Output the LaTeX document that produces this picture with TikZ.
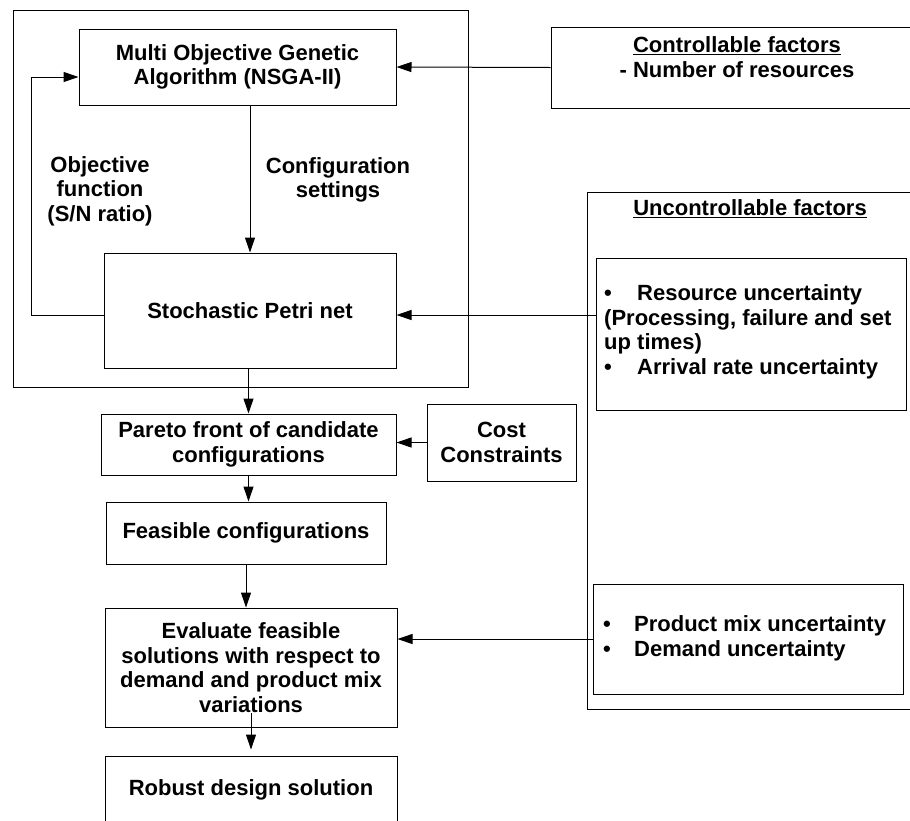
\documentclass[tikz,border=0pt]{standalone}
\usepackage{fontspec}
\setmainfont{Liberation Sans}
\usetikzlibrary{arrows.meta}
\newcommand\boxfont{\bfseries\fontsize{22}{24.5}\selectfont}
\newcommand\bul[1]{\makebox[#1][l]{\textbullet}}
\begin{document}
\begin{tikzpicture}[x=1pt,y=-1pt,
  box/.style={draw, line width=1pt, inner sep=0pt, align=center, font=\boxfont},
  lbl/.style={align=center, inner sep=0pt, font=\boxfont},
  lbll/.style={align=left, inner sep=0pt, font=\boxfont, anchor=west},
  arr/.style={line width=1pt, -{Triangle[length=15pt,width=10pt]}},
  ln/.style={line width=1pt}]
\useasboundingbox (0,0) rectangle (910,820);
\clip (0,0) rectangle (910,820);

% optimisation loop
\node[box, minimum width=455pt, minimum height=377pt] (loop) at (240.5,198.5) {};
\node[box, minimum width=317pt, minimum height=76pt] (moga) at (237.5,67)
  {Multi Objective Genetic\\Algorithm (NSGA-II)};
\node[box, minimum width=292pt, minimum height=115pt] (spn) at (250,310.5)
  {Stochastic Petri net};
\node[lbl] (objlbl) at (100,191) {Objective\\function\\(S/N ratio)};
\node[lbl] (cfglbl) at (338,180) {Configuration\\settings};

% factors
\node[box, minimum width=369pt, minimum height=81pt] (ctrl) at (735.5,67.5) {};
\node[lbl] (ctrltxt) at (737,57) {\underline{Controllable factors}\\- Number of resources};
\node[box, minimum width=333pt, minimum height=517pt] (unc) at (753.5,450.5) {};
\node[lbl] (unctxt) at (750,209) {\underline{Uncontrollable factors}};
\node[box, minimum width=310pt, minimum height=152pt] (unc1) at (751,334) {};
\node[lbll] (unc1txt) at (604,332)
  {\bul{33pt}Resource uncertainty\\(Processing, failure and set\\up times)\\\bul{33pt}Arrival rate uncertainty};
\node[box, minimum width=310pt, minimum height=110pt] (unc2) at (748,639) {};
\node[lbll] (unc2txt) at (603,638.5)
  {\bul{31pt}Product mix uncertainty\\\bul{31pt}Demand uncertainty};

% post-processing chain
\node[box, minimum width=295pt, minimum height=61pt] (pareto) at (248.5,444.5)
  {Pareto front of candidate\\configurations};
\node[box, minimum width=149pt, minimum height=77pt] (cost) at (501.5,442.5)
  {Cost\\Constraints};
\node[box, minimum width=280pt, minimum height=62pt] (feas) at (246,533)
  {Feasible configurations};
\node[box, minimum width=292pt, minimum height=119pt] (eval) at (251,667.5)
  {Evaluate feasible\\solutions with respect to\\demand and product mix\\variations};
\node[box, minimum width=292pt, minimum height=80pt, text depth=0pt] (robust) at (251,796)
  {};
\node[lbl] (robusttxt) at (251,790) {Robust design solution};

% connectors
\coordinate (spnin) at ([yshift=-4.5pt]spn.east);
\coordinate (spnout) at ([yshift=-4.5pt]spn.west);
\coordinate (evalout) at (251,713);
\draw[arr] (ctrl.west) -- (moga.east);
\draw[arr] (spn.north |- moga.south) -- (spn.north);
\draw[arr] (spnout) -- ++(-72,0) |- ([yshift=-10pt]moga.west);
\draw[arr] (spnin -| unc1.west) -- (spnin);
\draw[arr] (pareto.north |- spn.south) -- (pareto.north);
\draw[arr] (cost.west) -- (cost.west -| pareto.east);
\draw[arr] (pareto.south) -- (pareto.south |- feas.north);
\draw[arr] (feas.south) -- (feas.south |- eval.north);
\draw[arr] (unc2.west) -- (unc2.west -| eval.east);
\draw[arr] (evalout) -- ([yshift=6pt]robust.north);
\end{tikzpicture}
\end{document}
